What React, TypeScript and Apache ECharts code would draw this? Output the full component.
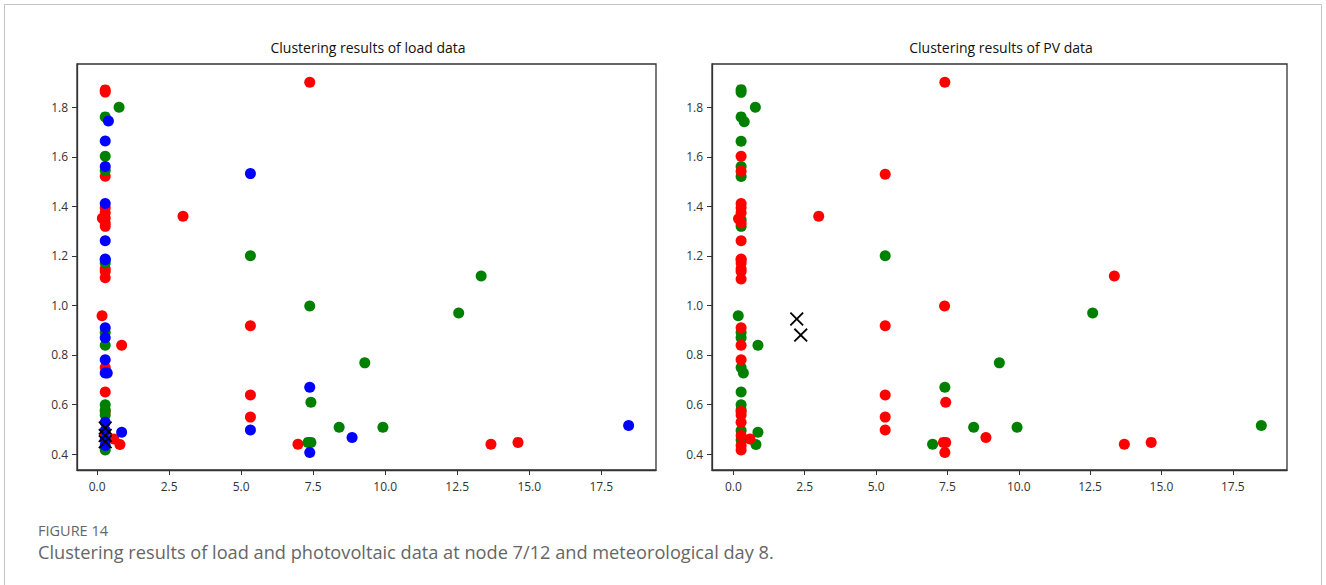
import React, { useEffect, useRef } from "react";
import * as echarts from "echarts";

// ---- Data ----
const xTicks = [0, 2.5, 5, 7.5, 10, 12.5, 15, 17.5];
const yTicks = [0.4, 0.6, 0.8, 1.0, 1.2, 1.4, 1.6, 1.8];

const loadRed: number[][] = [
  [0.28, 1.87], [0.28, 1.861], [0.28, 1.521], [0.28, 1.394], [0.28, 1.374], [0.28, 1.353],
  [0.18, 1.352], [0.28, 1.333], [0.28, 1.319], [0.28, 1.148], [0.28, 1.137], [0.28, 1.112],
  [0.17, 0.958], [0.85, 0.839], [0.28, 0.749], [0.28, 0.65], [0.28, 0.572], [0.28, 0.475],
  [0.58, 0.461], [0.79, 0.438], [2.98, 1.36], [5.32, 0.918], [5.32, 0.638], [5.32, 0.549],
  [7.38, 1.901], [6.97, 0.439], [13.67, 0.439], [14.61, 0.447],
];
const loadGreen: number[][] = [
  [0.76, 1.8], [0.28, 1.761], [0.28, 1.602], [0.28, 1.545], [0.28, 1.171], [0.28, 0.891],
  [0.28, 0.839], [0.28, 0.599], [0.28, 0.578], [0.28, 0.558], [0.28, 0.416], [5.32, 1.2],
  [7.38, 0.998], [7.42, 0.609], [13.33, 1.119], [12.55, 0.969], [9.29, 0.768], [8.4, 0.508],
  [9.92, 0.508], [7.32, 0.447], [7.42, 0.447],
];
const loadBlue: number[][] = [
  [0.39, 1.744], [0.28, 1.664], [0.28, 1.561], [0.28, 1.411], [0.28, 1.261], [0.28, 1.187],
  [0.28, 1.184], [0.28, 0.91], [0.28, 0.869], [0.28, 0.781], [0.28, 0.727], [0.35, 0.727],
  [0.28, 0.528], [0.28, 0.495], [0.28, 0.457], [0.28, 0.434], [0.85, 0.488], [5.32, 1.532],
  [5.32, 0.497], [7.38, 0.67], [7.38, 0.406], [8.85, 0.467], [18.45, 0.515],
];
const loadCentroids: number[][] = [[0.28, 0.505], [0.28, 0.475], [0.28, 0.45]];

const pvGreen: number[][] = [
  [0.27, 1.871], [0.27, 1.86], [0.77, 1.8], [0.27, 1.761], [0.38, 1.741], [0.27, 1.663],
  [0.27, 1.561], [0.27, 1.52], [0.27, 1.346], [0.27, 1.319], [0.17, 0.958], [0.27, 0.891],
  [0.27, 0.869], [0.86, 0.839], [0.27, 0.749], [0.35, 0.727], [0.27, 0.65], [0.27, 0.599],
  [0.27, 0.578], [0.27, 0.495], [0.27, 0.457], [0.86, 0.488], [0.79, 0.438], [5.32, 1.2],
  [12.59, 0.969], [9.32, 0.768], [7.41, 0.67], [8.42, 0.508], [9.94, 0.508], [6.98, 0.439],
  [18.5, 0.515],
];
const pvRed: number[][] = [
  [0.27, 1.602], [0.27, 1.542], [0.27, 1.411], [0.27, 1.394], [0.27, 1.374], [0.18, 1.35],
  [0.27, 1.333], [0.27, 1.261], [0.27, 1.187], [0.27, 1.184], [0.27, 1.171], [0.27, 1.148],
  [0.27, 1.137], [0.27, 1.107], [0.27, 0.91], [0.27, 0.839], [0.27, 0.781], [0.27, 0.572],
  [0.27, 0.558], [0.27, 0.528], [0.27, 0.475], [0.58, 0.461], [0.27, 0.434], [0.27, 0.416],
  [2.99, 1.36], [7.41, 1.901], [5.32, 1.529], [13.35, 1.119], [7.4, 0.998], [5.32, 0.918],
  [5.32, 0.638], [7.44, 0.609], [5.32, 0.549], [5.32, 0.497], [8.85, 0.467], [7.36, 0.447],
  [7.44, 0.447], [7.41, 0.406], [13.7, 0.439], [14.64, 0.447],
];
const pvCentroids: number[][] = [[2.22, 0.945], [2.36, 0.88]];

const titles = ["Clustering results of load data", "Clustering results of PV data"];
const figureLabel = "FIGURE 14";
const caption =
  "Clustering results of load and photovoltaic data at node 7/12 and meteorological day 8.";

const X_PATH =
  "path://M0,9L9,0L50,41L91,0L100,9L59,50L100,91L91,100L50,59L9,100L0,91L41,50Z";

export default function App() {
  const ref = useRef<HTMLDivElement>(null);

  useEffect(() => {
    if (!ref.current) return;
    const chart = echarts.init(ref.current, null, { renderer: "svg" });
    const font = "'Open Sans', 'Liberation Sans', sans-serif";

    const makeX = (idx: number, min: number) => ({
      type: "value",
      gridIndex: idx,
      min,
      max: 19.4,
      axisLine: { show: true, onZero: false, lineStyle: { color: "#333", width: 1.3 } },
      axisTick: {
        show: true,
        length: 5,
        customValues: xTicks,
        lineStyle: { color: "#333" },
      },
      axisLabel: {
        customValues: xTicks,
        formatter: (v: number) => v.toFixed(1),
        color: "#333",
        fontSize: 12,
        fontFamily: font,
        margin: 10,
      },
      splitLine: { show: false },
    });
    const makeY = (idx: number) => ({
      type: "value",
      gridIndex: idx,
      min: 0.3355,
      max: 1.9745,
      axisLine: { show: true, onZero: false, lineStyle: { color: "#333", width: 1.3 } },
      axisTick: {
        show: true,
        length: 5,
        customValues: yTicks,
        lineStyle: { color: "#333" },
      },
      axisLabel: {
        customValues: yTicks,
        formatter: (v: number) => v.toFixed(1),
        color: "#333",
        fontSize: 12,
        fontFamily: font,
        margin: 9,
      },
      splitLine: { show: false },
    });

    const dot = (data: number[][], color: string, idx: number) => ({
      type: "scatter",
      xAxisIndex: idx,
      yAxisIndex: idx,
      data,
      symbol: "circle",
      symbolSize: 11,
      itemStyle: { color, opacity: 1 },
      silent: true,
    });
    const cross = (data: number[][], idx: number) => ({
      type: "scatter",
      xAxisIndex: idx,
      yAxisIndex: idx,
      data,
      symbol: X_PATH,
      symbolSize: 14,
      itemStyle: { color: "#000", opacity: 1 },
      z: 5,
      silent: true,
    });

    chart.setOption({
      animation: false,
      backgroundColor: "#fff",
      grid: [
        { left: 77, top: 64, width: 579, height: 406, show: true, borderColor: "#333", borderWidth: 1.3, backgroundColor: "#fff" },
        { left: 712, top: 64, width: 575, height: 406, show: true, borderColor: "#333", borderWidth: 1.3, backgroundColor: "#fff" },
      ],
      xAxis: [makeX(0, -0.7), makeX(1, -0.75)],
      yAxis: [makeY(0), makeY(1)],
      series: [
        dot(loadRed, "#ff0000", 0),
        dot(loadGreen, "#008000", 0),
        dot(loadBlue, "#0000ff", 0),
        cross(loadCentroids, 0),
        dot(pvGreen, "#008000", 1),
        dot(pvRed, "#ff0000", 1),
        cross(pvCentroids, 1),
      ],
      graphic: [
        {
          type: "rect",
          shape: { x: 4.5, y: 4.5, width: 1317, height: 640 },
          style: { fill: "none", stroke: "#c4c4c4", lineWidth: 1 },
          silent: true,
        },
        {
          type: "text",
          x: 368,
          y: 47,
          style: {
            text: titles[0],
            fontSize: 14,
            fontFamily: font,
            fill: "#111",
            align: "center",
            verticalAlign: "middle",
          },
        },
        {
          type: "text",
          x: 1001,
          y: 47,
          style: {
            text: titles[1],
            fontSize: 14,
            fontFamily: font,
            fill: "#111",
            align: "center",
            verticalAlign: "middle",
          },
        },
        {
          type: "text",
          x: 38,
          y: 530,
          style: {
            text: figureLabel,
            fontSize: 14.5,
            fontFamily: font,
            fill: "#666",
            align: "left",
            verticalAlign: "middle",
          },
        },
        {
          type: "text",
          x: 38,
          y: 552,
          style: {
            text: caption,
            fontSize: 18.2,
            fontFamily: font,
            fill: "#666",
            align: "left",
            verticalAlign: "middle",
          },
        },
      ],
    });

    return () => chart.dispose();
  }, []);

  return (
    <div
      ref={ref}
      style={{ position: "fixed", left: 0, top: 0, width: 1326, height: 585, background: "#fff" }}
    />
  );
}
